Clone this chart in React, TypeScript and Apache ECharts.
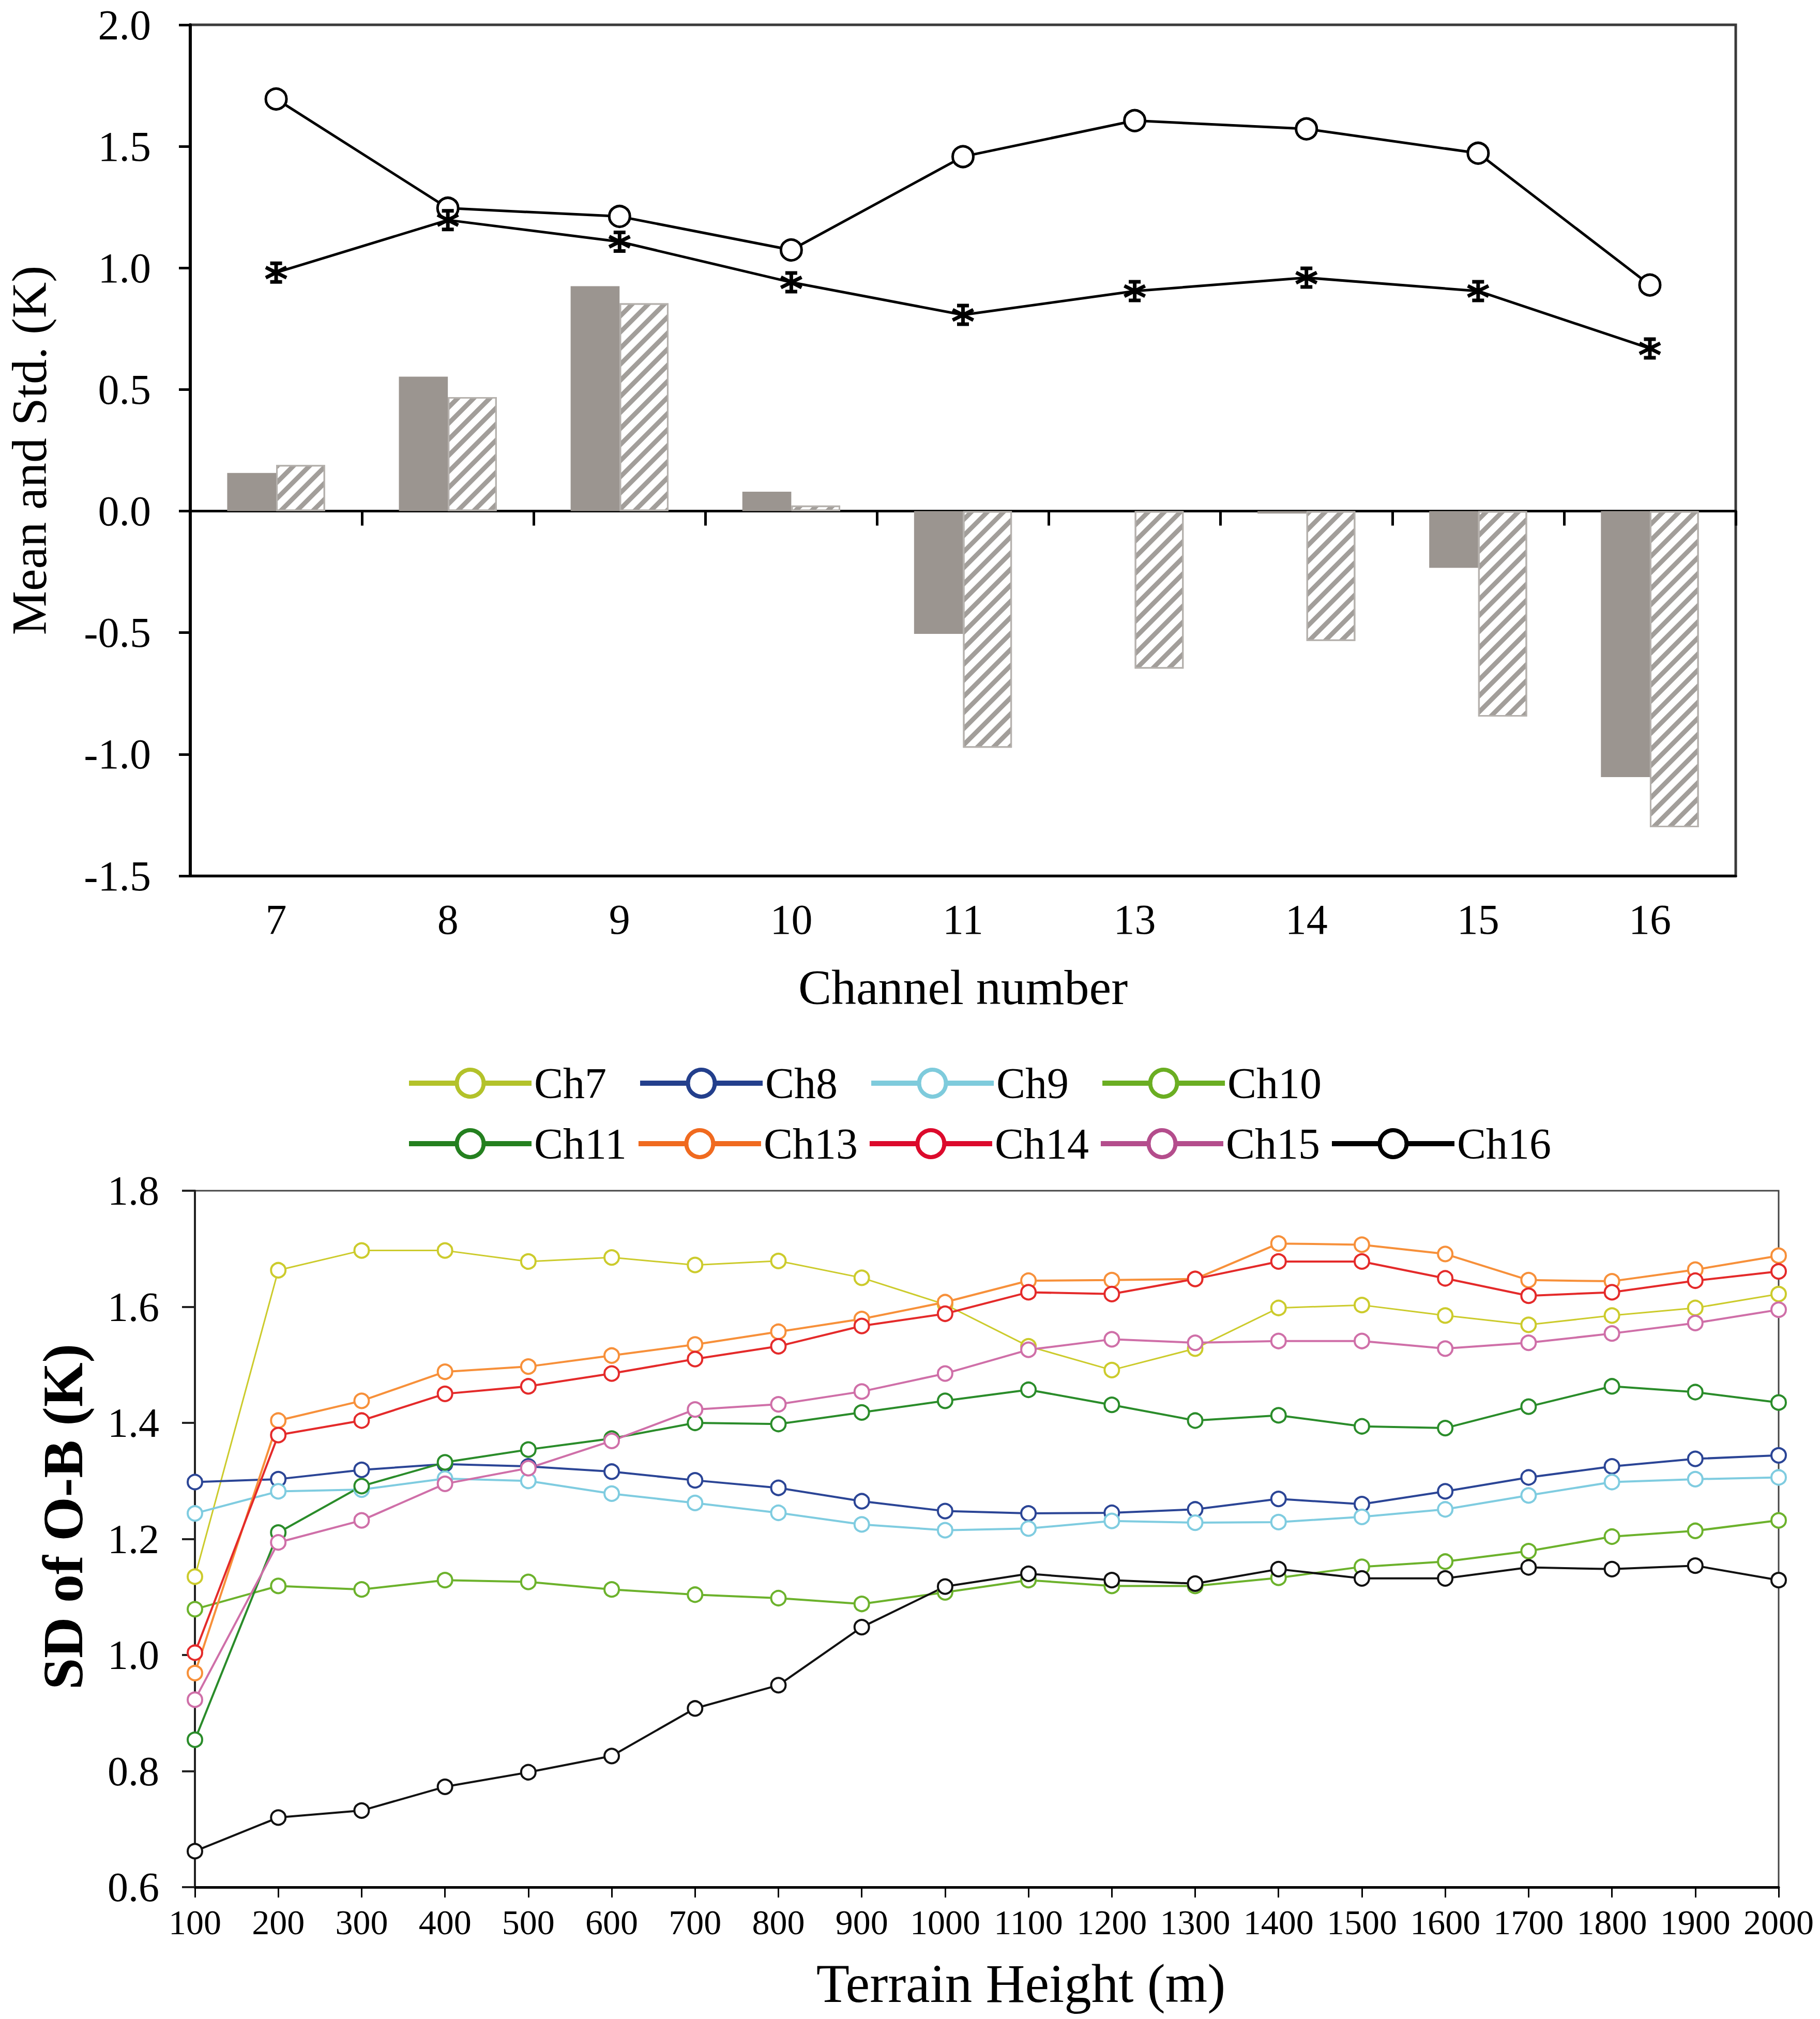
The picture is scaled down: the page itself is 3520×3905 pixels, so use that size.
import React, { useEffect, useRef } from 'react';
import * as echarts from 'echarts';

// top panel: mean and std of the departures per channel
const channels = ['7', '8', '9', '10', '11', '13', '14', '15', '16'];
const meanGray = [0.157, 0.553, 0.925, 0.08, -0.505, 0, -0.01, -0.233, -1.094];
const meanHatched = [0.19, 0.469, 0.855, 0.023, -0.973, -0.648, -0.534, -0.845, -1.3];
const stdCircle = [1.695, 1.246, 1.212, 1.074, 1.458, 1.606, 1.572, 1.472, 0.93];
const stdStar = [0.981, 1.197, 1.108, 0.941, 0.807, 0.905, 0.96, 0.905, 0.669];

// bottom panel: SD of O-B against terrain height
const heights = [
  '100', '200', '300', '400', '500', '600', '700', '800', '900', '1000',
  '1100', '1200', '1300', '1400', '1500', '1600', '1700', '1800', '1900', '2000',
];
const ch7 = [1.135, 1.663, 1.697, 1.697, 1.678, 1.685, 1.672, 1.679, 1.65, 1.604, 1.532, 1.491, 1.528, 1.598, 1.603, 1.585, 1.569, 1.585, 1.598, 1.622];
const ch8 = [1.298, 1.303, 1.319, 1.329, 1.325, 1.316, 1.301, 1.288, 1.265, 1.248, 1.244, 1.245, 1.251, 1.269, 1.26, 1.282, 1.306, 1.325, 1.338, 1.344];
const ch9 = [1.244, 1.282, 1.285, 1.304, 1.3, 1.278, 1.262, 1.245, 1.225, 1.215, 1.218, 1.231, 1.228, 1.229, 1.238, 1.251, 1.275, 1.298, 1.303, 1.306];
const ch10 = [1.079, 1.119, 1.113, 1.129, 1.126, 1.113, 1.104, 1.098, 1.088, 1.108, 1.129, 1.119, 1.119, 1.133, 1.152, 1.161, 1.179, 1.204, 1.214, 1.232];
const ch11 = [0.854, 1.211, 1.291, 1.332, 1.354, 1.373, 1.4, 1.398, 1.418, 1.438, 1.457, 1.431, 1.404, 1.413, 1.394, 1.391, 1.428, 1.463, 1.453, 1.435];
const ch13 = [0.969, 1.404, 1.438, 1.488, 1.497, 1.516, 1.535, 1.557, 1.579, 1.608, 1.645, 1.646, 1.648, 1.709, 1.707, 1.691, 1.646, 1.644, 1.664, 1.688];
const ch14 = [1.004, 1.379, 1.404, 1.45, 1.463, 1.485, 1.51, 1.532, 1.567, 1.588, 1.625, 1.622, 1.648, 1.678, 1.678, 1.649, 1.619, 1.625, 1.645, 1.661];
const ch15 = [0.923, 1.194, 1.232, 1.295, 1.322, 1.369, 1.423, 1.432, 1.454, 1.485, 1.526, 1.544, 1.538, 1.541, 1.541, 1.528, 1.538, 1.554, 1.572, 1.595];
const ch16 = [0.662, 0.72, 0.732, 0.773, 0.798, 0.826, 0.908, 0.948, 1.048, 1.118, 1.14, 1.129, 1.123, 1.148, 1.132, 1.132, 1.151, 1.148, 1.154, 1.129];

const lineNames = ['Ch7', 'Ch8', 'Ch9', 'Ch10', 'Ch11', 'Ch13', 'Ch14', 'Ch15', 'Ch16'];
const lineValues = [ch7, ch8, ch9, ch10, ch11, ch13, ch14, ch15, ch16];
const lineColors = ['#cccb2c', '#2b4596', '#7fcce0', '#6cb22c', '#2a8c2a', '#f7903a', '#e42a2a', '#cf6fa8', '#111111'];
const legendColors = ['#b3c22a', '#233f8c', '#7ecbdc', '#6aae22', '#24801f', '#f06a1f', '#dc0a2c', '#b44d8c', '#000000'];

const serif = "'Liberation Serif', 'Times New Roman', serif";
const asterisk = 'path://M10 0L10 20M1.3 5L18.7 15M1.3 15L18.7 5M5 1L15 1M5 19L15 19';

const legendItem = (name: string) => {
  const c = legendColors[lineNames.indexOf(name)];
  return {
    name,
    itemStyle: { color: '#fff', borderColor: c, borderWidth: 8 },
    lineStyle: { color: c, width: 10 },
  };
};

const App: React.FC = () => {
  const chartRef = useRef<HTMLDivElement>(null);

  useEffect(() => {
    if (!chartRef.current) return;
    const chart = echarts.init(chartRef.current, null, { renderer: 'svg' });

    const legendBase = {
      left: 786,
      orient: 'horizontal',
      itemWidth: 237,
      itemHeight: 65,
      padding: 0,
      selectedMode: false,
      itemStyle: { borderWidth: 8 },
      lineStyle: { width: 10 },
      textStyle: { fontFamily: serif, fontSize: 84, color: '#000' },
    };

    const option: any = {
      animation: false,
      backgroundColor: '#fff',
      textStyle: { fontFamily: serif },
      grid: [
        { left: 367, top: 48, width: 2990, height: 1646, show: true, borderColor: '#3a3a3a', borderWidth: 5 },
        { left: 377, top: 2303, width: 3063, height: 1347, show: true, borderColor: '#444', borderWidth: 3 },
      ],
      legend: [
        { ...legendBase, top: 2053, itemGap: 60, data: lineNames.slice(0, 4).map(legendItem) },
        { ...legendBase, top: 2170, itemGap: 18, data: lineNames.slice(4).map(legendItem) },
      ],
      xAxis: [
        {
          gridIndex: 0,
          type: 'category',
          data: channels,
          position: 'bottom',
          axisLine: { onZero: false, lineStyle: { color: '#000', width: 5 } },
          axisTick: { show: false },
          axisLabel: { fontSize: 82, color: '#000', margin: 43, fontFamily: serif },
          name: 'Channel number',
          nameLocation: 'middle',
          nameGap: 215,
          nameTextStyle: { fontSize: 96, color: '#000', fontFamily: serif, verticalAlign: 'middle' },
        },
        {
          gridIndex: 0,
          type: 'category',
          data: channels,
          position: 'bottom',
          axisLine: { onZero: true, lineStyle: { color: '#000', width: 5 } },
          axisTick: { show: true, length: 28, lineStyle: { color: '#000', width: 5 } },
          axisLabel: { show: false },
        },
        {
          gridIndex: 1,
          type: 'category',
          data: heights,
          boundaryGap: false,
          axisLine: { lineStyle: { color: '#000', width: 5 } },
          axisTick: { length: 20, lineStyle: { color: '#000', width: 3 } },
          axisLabel: { interval: 0, fontSize: 68, color: '#000', margin: 34, fontFamily: serif },
          name: 'Terrain Height (m)',
          nameLocation: 'middle',
          nameGap: 186,
          nameTextStyle: { fontSize: 105, color: '#000', fontFamily: serif, verticalAlign: 'middle', padding: [0, 0, 0, 132] },
        },
      ],
      yAxis: [
        {
          gridIndex: 0,
          type: 'value',
          min: -1.5,
          max: 2,
          interval: 0.5,
          splitLine: { show: false },
          axisLine: { show: true, lineStyle: { color: '#000', width: 6 } },
          axisTick: { show: true, length: 22, lineStyle: { color: '#000', width: 5 } },
          axisLabel: { fontSize: 82, color: '#000', margin: 76, fontFamily: serif, formatter: (v: number) => v.toFixed(1) },
          name: 'Mean and Std. (K)',
          nameLocation: 'middle',
          nameGap: 312,
          nameTextStyle: { fontSize: 96, color: '#000', fontFamily: serif, verticalAlign: 'middle' },
        },
        {
          gridIndex: 1,
          type: 'value',
          min: 0.6,
          max: 1.8,
          interval: 0.2,
          splitLine: { show: false },
          axisLine: { show: true, lineStyle: { color: '#222', width: 4 } },
          axisTick: { show: true, length: 25, lineStyle: { color: '#222', width: 4 } },
          axisLabel: { fontSize: 80, color: '#000', margin: 69, fontFamily: serif, formatter: (v: number) => v.toFixed(1) },
          name: 'SD of O-B (K)',
          nameLocation: 'middle',
          nameGap: 255,
          nameTextStyle: {
            fontSize: 110, fontWeight: 'bold', color: '#000', fontFamily: serif,
            verticalAlign: 'middle', padding: [0, 0, 0, 86],
          },
        },
      ],
      series: [
        {
          name: 'Mean of O-B',
          type: 'bar',
          xAxisIndex: 0,
          yAxisIndex: 0,
          data: meanGray,
          barGap: '0%',
          barCategoryGap: '43%',
          itemStyle: { color: '#9b9590' },
        },
        {
          name: 'Mean of O-A',
          type: 'bar',
          xAxisIndex: 0,
          yAxisIndex: 0,
          data: meanHatched,
          itemStyle: {
            color: '#fff',
            borderColor: '#b5b1ad',
            borderWidth: 3,
            decal: {
              symbol: 'rect',
              symbolSize: 1,
              color: '#a29e9a',
              dashArrayX: [1, 0],
              dashArrayY: [9, 13],
              rotation: -Math.PI / 4,
            },
          },
        },
        {
          name: 'Std. of O-B',
          type: 'line',
          xAxisIndex: 0,
          yAxisIndex: 0,
          data: stdCircle,
          symbol: 'circle',
          symbolSize: 40,
          lineStyle: { color: '#000', width: 5 },
          itemStyle: { color: '#fff', borderColor: '#000', borderWidth: 5 },
          z: 3,
        },
        {
          name: 'Std. of O-A',
          type: 'line',
          xAxisIndex: 0,
          yAxisIndex: 0,
          data: stdStar,
          symbol: asterisk,
          symbolSize: 40,
          lineStyle: { color: '#000', width: 5 },
          itemStyle: { color: '#000', borderColor: '#000', borderWidth: 7 },
          z: 3,
        },
        ...lineNames.map((name, i) => ({
          name,
          type: 'line',
          xAxisIndex: 2,
          yAxisIndex: 1,
          data: lineValues[i],
          symbol: 'circle',
          symbolSize: 28,
          lineStyle: { color: lineColors[i], width: i === 0 ? 3 : 4 },
          itemStyle: { color: '#fff', borderColor: lineColors[i], borderWidth: 4 },
        })),
      ],
    };

    chart.setOption(option);

    return () => {
      chart.dispose();
    };
  }, []);

  return (
    <div
      ref={chartRef}
      style={{ position: 'absolute', left: 0, top: 0, width: 3520, height: 3905, background: '#fff' }}
    />
  );
};

export default App;
